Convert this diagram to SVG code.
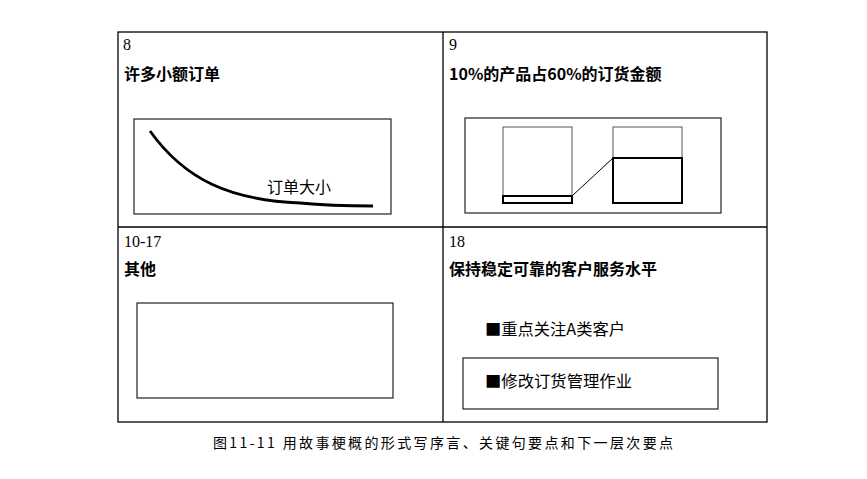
<svg xmlns="http://www.w3.org/2000/svg" width="867" height="479" viewBox="0 0 867 479">
<style>
.frame{fill:none;stroke:#000;stroke-width:1.3}
.box{fill:none;stroke:#222;stroke-width:1.2}
.num{font-family:"Liberation Serif",serif;font-size:16px;fill:#000}
.title{font-family:"Noto Sans CJK SC",sans-serif;font-size:16px;font-weight:bold;fill:#000}
.lbl{font-family:"Noto Sans CJK SC",sans-serif;font-size:16px;fill:#000}
.cap{font-family:"Noto Sans CJK SC",sans-serif;font-size:14px;fill:#000}
</style>
<rect width="867" height="479" fill="#fff"/>
<g id="grid">
<rect class="frame" x="118" y="32" width="649" height="390"/>
<line class="frame" x1="443" y1="32" x2="443" y2="422"/>
<line class="frame" x1="118" y1="227" x2="767" y2="227"/>
</g>
<g id="panel8">
<text class="num" x="123" y="50">8</text>
<text class="title" x="124" y="80">许多小额订单</text>
<rect class="box" x="134" y="119" width="257" height="95"/>
<path d="M150,131 C185,180 230,200 300,203 C330,206 355,206 373,206" fill="none" stroke="#000" stroke-width="2.8"/>
<text class="lbl" x="267" y="193">订单大小</text>
</g>
<g id="panel9">
<text class="num" x="449" y="50">9</text>
<text class="title" x="449" y="80">10%的产品占60%的订货金额</text>
<rect class="box" x="465" y="118" width="256" height="95"/>
<rect x="503" y="127" width="69" height="76" fill="none" stroke="#555" stroke-width="1"/>
<rect x="503" y="196" width="69" height="7" fill="none" stroke="#000" stroke-width="2"/>
<rect x="613" y="127" width="69" height="76" fill="none" stroke="#555" stroke-width="1"/>
<rect x="613" y="158" width="69" height="45" fill="none" stroke="#000" stroke-width="2"/>
<line x1="572" y1="196" x2="613" y2="158" stroke="#000" stroke-width="1"/>
</g>
<g id="panel10">
<text class="num" x="124" y="247">10-17</text>
<text class="title" x="124" y="275">其他</text>
<rect class="box" x="137" y="303" width="256" height="95"/>
</g>
<g id="panel18">
<text class="num" x="449" y="247">18</text>
<text class="title" x="449" y="275">保持稳定可靠的客户服务水平</text>
<text class="lbl" x="485" y="335" textLength="140" lengthAdjust="spacingAndGlyphs">■重点关注A类客户</text>
<rect class="box" x="463" y="358" width="255" height="51"/>
<text class="lbl" x="485" y="387" textLength="147" lengthAdjust="spacingAndGlyphs">■修改订货管理作业</text>
</g>
<g id="caption">
<text class="cap" x="213" y="448" textLength="460" lengthAdjust="spacing">图11-11 用故事梗概的形式写序言、关键句要点和下一层次要点</text>
</g>
</svg>
